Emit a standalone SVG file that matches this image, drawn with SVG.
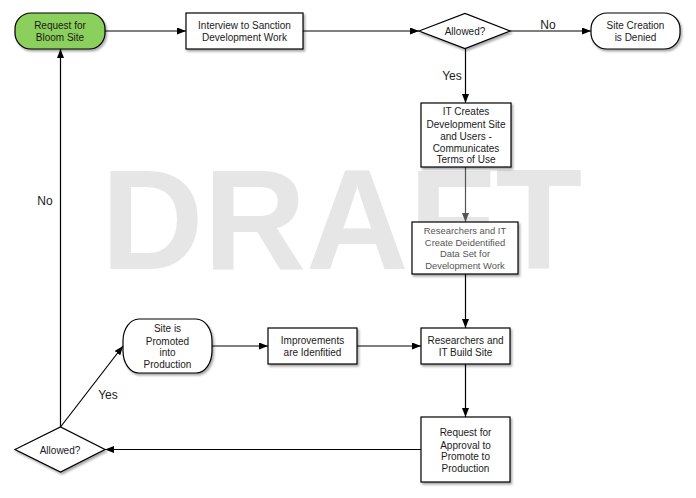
<svg xmlns="http://www.w3.org/2000/svg" width="696" height="498" viewBox="0 0 696 498">
<style>
  .node { fill: #ffffff; stroke: #000000; stroke-width: 1.2; filter: url(#sh); }
  .green { fill: #8bcf5c; }
  .t { font-family: "Liberation Sans", Arial, sans-serif; font-size: 10px; fill: #1a1a1a; text-anchor: middle; }
  .t2 { font-family: "Liberation Sans", Arial, sans-serif; font-size: 9.4px; fill: #555555; text-anchor: middle; }
  .lbl { font-family: "Liberation Sans", Arial, sans-serif; font-size: 12px; fill: #1a1a1a; text-anchor: middle; }
  .edge { fill: none; stroke: #000000; stroke-width: 1.2; marker-end: url(#arr); }
  .gray { stroke: #555555; marker-end: url(#arrg); }
  .wm { font-family: "Liberation Sans", Arial, sans-serif; font-size: 142px; font-weight: bold; fill: #e6e6e6; }
</style>
<defs>
  <filter id="sh" x="-10%" y="-10%" width="130%" height="140%">
    <feDropShadow dx="1.5" dy="2" stdDeviation="1.2" flood-color="#000" flood-opacity="0.35"/>
  </filter>
  <marker id="arr" markerUnits="userSpaceOnUse" markerWidth="10" markerHeight="8" refX="9" refY="3.5" orient="auto">
    <path d="M0,0 L9,3.5 L0,7 Z" fill="#000"/>
  </marker>
  <marker id="arrg" markerUnits="userSpaceOnUse" markerWidth="10" markerHeight="8" refX="9" refY="3.5" orient="auto">
    <path d="M0,0 L9,3.5 L0,7 Z" fill="#555"/>
  </marker>
</defs>
<rect width="696" height="498" fill="#ffffff"/>
<text class="wm" x="101" y="269">DRAFT</text>

<g id="connectors">
  <path class="edge" d="M105,31 H186"/>
  <path class="edge" d="M303,31 H419"/>
  <path class="edge" d="M510,31 H591"/>
  <path class="edge" d="M465.5,48.5 V103"/>
  <path class="edge gray" d="M465.5,167 V222"/>
  <path class="edge" d="M465.5,274 V328"/>
  <path class="edge" d="M465.5,364 V417"/>
  <path class="edge" d="M421,449.5 H105"/>
  <path class="edge" d="M60.5,427 V49"/>
  <path class="edge" d="M60.5,427 L123,346"/>
  <path class="edge" d="M212,346 H268"/>
  <path class="edge" d="M357,346 H421"/>
  <text class="lbl" x="548" y="29">No</text>
  <text class="lbl" x="452" y="80">Yes</text>
  <text class="lbl" x="45" y="205">No</text>
  <text class="lbl" x="108" y="399">Yes</text>
</g>

<g id="request-bloom">
  <rect class="node green" x="15" y="13" width="90" height="36" rx="16" ry="16"/>
  <text class="t" x="60" y="28.5">Request for</text>
  <text class="t" x="60" y="40.5">Bloom Site</text>
</g>
<g id="interview">
  <rect class="node" x="186" y="13" width="117" height="36"/>
  <text class="t" x="244.5" y="28.5">Interview to Sanction</text>
  <text class="t" x="244.5" y="40.5">Development Work</text>
</g>
<g id="allowed-1">
  <path class="node" d="M419,31 L465,13.5 L510,31 L465,48.5 Z"/>
  <text class="t" x="465" y="34.5">Allowed?</text>
</g>
<g id="denied">
  <rect class="node" x="591" y="13" width="89" height="36" rx="16" ry="16"/>
  <text class="t" x="635.5" y="28.5">Site Creation</text>
  <text class="t" x="635.5" y="40.5">is Denied</text>
</g>
<g id="it-creates">
  <rect class="node" x="421" y="103" width="90" height="64"/>
  <text class="t" x="466" y="115">IT Creates</text>
  <text class="t" x="466" y="127.5">Development Site</text>
  <text class="t" x="466" y="139.5">and Users -</text>
  <text class="t" x="466" y="151.5">Communicates</text>
  <text class="t" x="466" y="163">Terms of Use</text>
</g>
<g id="deidentified">
  <rect class="node" x="412" y="222" width="106" height="52"/>
  <text class="t2" x="465" y="234">Researchers and IT</text>
  <text class="t2" x="465" y="245.6">Create Deidentified</text>
  <text class="t2" x="465" y="257.2">Data Set for</text>
  <text class="t2" x="465" y="268.8">Development Work</text>
</g>
<g id="build-site">
  <rect class="node" x="421" y="328" width="89" height="36"/>
  <text class="t" x="465.5" y="344">Researchers and</text>
  <text class="t" x="465.5" y="356">IT Build Site</text>
</g>
<g id="request-approval">
  <rect class="node" x="421" y="417" width="89" height="65"/>
  <text class="t" x="465.5" y="436">Request for</text>
  <text class="t" x="465.5" y="448.5">Approval to</text>
  <text class="t" x="465.5" y="460">Promote to</text>
  <text class="t" x="465.5" y="472">Production</text>
</g>
<g id="allowed-2">
  <path class="node" d="M15,449.5 L60.5,427 L105,449.5 L60.5,472 Z"/>
  <text class="t" x="60" y="453.5">Allowed?</text>
</g>
<g id="promoted">
  <rect class="node" x="123" y="319" width="89" height="54" rx="16" ry="22"/>
  <text class="t" x="167.5" y="332">Site is</text>
  <text class="t" x="167.5" y="344.5">Promoted</text>
  <text class="t" x="167.5" y="356">into</text>
  <text class="t" x="167.5" y="368">Production</text>
</g>
<g id="improvements">
  <rect class="node" x="268" y="328" width="89" height="36"/>
  <text class="t" x="312.5" y="344">Improvements</text>
  <text class="t" x="312.5" y="356">are Idenfitied</text>
</g>
</svg>
